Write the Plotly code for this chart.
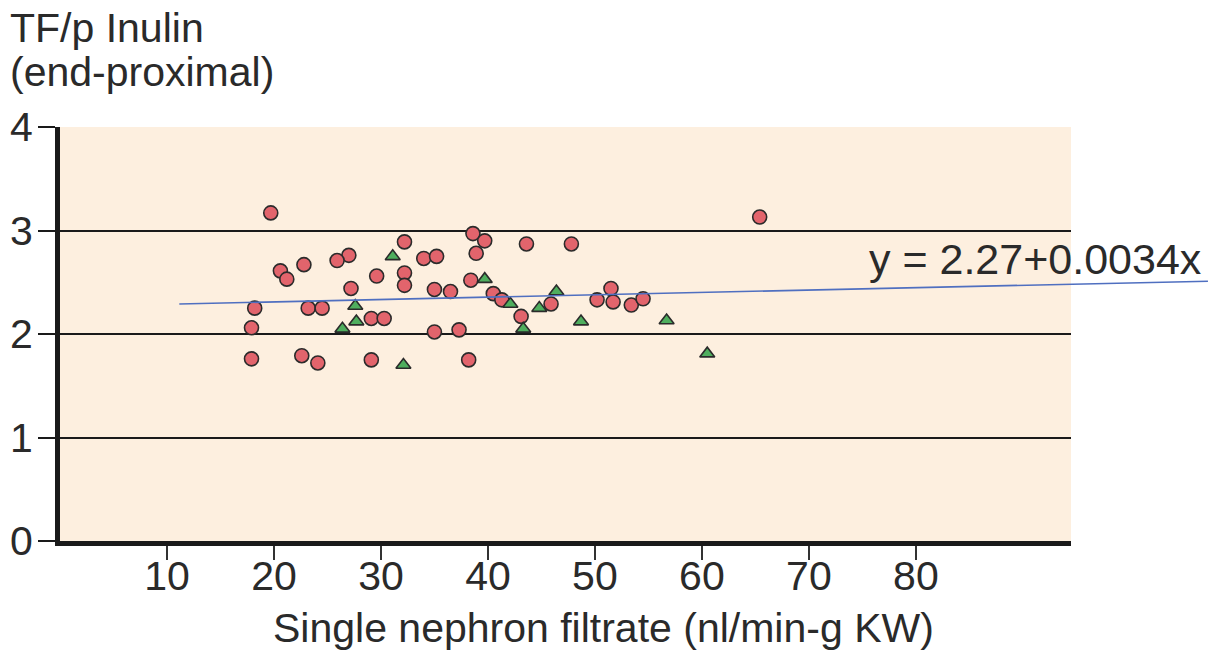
import plotly.graph_objects as go

# ---- data ----
circle_x = [19.7, 27.0, 25.9, 22.8, 20.6, 21.2, 27.2, 29.6, 18.2, 23.2, 24.5, 17.9, 29.1,
            17.9, 22.6, 24.1, 29.1, 38.6, 39.7, 32.2, 43.6, 38.9, 34.0, 35.2, 32.2, 32.2,
            38.4, 35.0, 36.5, 40.5, 41.3, 43.1, 45.9, 30.3, 35.0, 37.3, 38.2, 65.4, 47.8,
            51.5, 50.2, 51.7, 53.4, 54.5]
circle_y = [3.17, 2.76, 2.71, 2.67, 2.61, 2.53, 2.44, 2.56, 2.25, 2.25, 2.25, 2.06, 2.15,
            1.76, 1.79, 1.72, 1.75, 2.97, 2.90, 2.89, 2.87, 2.78, 2.73, 2.75, 2.59, 2.47,
            2.52, 2.43, 2.41, 2.39, 2.33, 2.17, 2.29, 2.15, 2.02, 2.04, 1.75, 3.13, 2.87,
            2.44, 2.33, 2.31, 2.28, 2.34]
tri_x = [27.6, 27.7, 26.4, 31.1, 39.7, 42.1, 44.8, 43.3, 46.4, 32.1, 48.7, 56.7, 60.5]
tri_y = [2.27, 2.12, 2.05, 2.75, 2.53, 2.29, 2.25, 2.05, 2.41, 1.70, 2.12, 2.13, 1.81]

fit_x = [11.15, 107.3]
fit_y = [2.29, 2.51]
fit_label = "y = 2.27+0.0034x"

x_ticks = [10, 20, 30, 40, 50, 60, 70, 80]
y_ticks = [0, 1, 2, 3, 4]
x_title = "Single nephron filtrate (nl/min-g KW)"
y_title_1 = "TF/p Inulin"
y_title_2 = "(end-proximal)"

X_RANGE = [0, 94.5]
Y_RANGE = [0, 4.0]

FONT = "Liberation Sans, Arial, Helvetica, sans-serif"
TXT = "#2a2a2a"
FS = 41

# the page adds an 8px body margin; the figure is sized/positioned to compensate
OFF = 8
FIG_W, FIG_H = 1224 - OFF, 654 - OFF
L, R, T, B = 60 - OFF, 153, 127 - OFF, 113

fig = go.Figure()
fig.add_trace(go.Scatter(
    x=circle_x, y=circle_y, mode="markers",
    marker=dict(symbol="circle", size=14, color="#E2646C",
                line=dict(color="#2b2b2b", width=1.6)),
    showlegend=False))
fig.add_trace(go.Scatter(
    x=tri_x, y=tri_y, mode="markers",
    marker=dict(symbol="triangle-up", size=13, color="#4FAE5E",
                line=dict(color="#2b2b2b", width=1.6)),
    showlegend=False))

def px(v):
    return (v - X_RANGE[0]) / (X_RANGE[1] - X_RANGE[0])

def py(v):
    return (v - Y_RANGE[0]) / (Y_RANGE[1] - Y_RANGE[0])

# regression line (extends beyond the plot area on the right)
fig.add_shape(type="line", xref="paper", yref="paper",
              x0=px(fit_x[0]), y0=py(fit_y[0]), x1=px(fit_x[1]), y1=py(fit_y[1]),
              line=dict(color="#4F6FC0", width=1.6), layer="above")

fig.update_layout(
    width=FIG_W, height=FIG_H,
    margin=dict(l=L, r=R, t=T, b=B, autoexpand=False),
    paper_bgcolor="white",
    plot_bgcolor="#FDEFDF",
    font=dict(family=FONT, size=FS, color=TXT),
    xaxis=dict(range=X_RANGE, tickvals=x_ticks, ticktext=[str(v) for v in x_ticks],
               showgrid=False, zeroline=False, automargin=False,
               showline=True, linecolor="#1a1a1a", linewidth=5,
               ticks="outside", ticklen=14, tickwidth=1.5, tickcolor="#333",
               tickfont=dict(size=FS, color=TXT), ticklabelstandoff=-19),
    yaxis=dict(range=Y_RANGE, tickvals=y_ticks, ticktext=[str(v) for v in y_ticks],
               showgrid=True, gridcolor="#1a1a1a", gridwidth=2,
               zeroline=False, automargin=False,
               showline=True, linecolor="#1a1a1a", linewidth=5,
               ticks="outside", ticklen=17, tickwidth=2, tickcolor="#1a1a1a",
               tickfont=dict(size=FS, color=TXT), ticklabelstandoff=-3),
)

W = FIG_W - L - R
H = FIG_H - T - B

def ppx(pix):  # reference page pixel -> paper coordinate
    return (pix - OFF - L) / W

def ppy(pix):
    return (FIG_H - B - (pix - OFF)) / H

fig.add_annotation(text=y_title_1, xref="paper", yref="paper", x=ppx(8), y=ppy(28),
                   xanchor="left", yanchor="middle", showarrow=False,
                   font=dict(size=FS, color=TXT, family=FONT))
fig.add_annotation(text=y_title_2, xref="paper", yref="paper", x=ppx(8), y=ppy(72),
                   xanchor="left", yanchor="middle", showarrow=False,
                   font=dict(size=FS, color=TXT, family=FONT))
fig.add_annotation(text=x_title, xref="paper", yref="paper", x=ppx(603), y=ppy(628),
                   xanchor="center", yanchor="middle", showarrow=False,
                   font=dict(size=FS, color=TXT, family=FONT))
fig.add_annotation(text=fit_label, xref="paper", yref="paper", x=ppx(867), y=ppy(259),
                   xanchor="left", yanchor="middle", showarrow=False,
                   font=dict(size=FS + 2, color=TXT, family=FONT))

fig.write_html("out.html")
